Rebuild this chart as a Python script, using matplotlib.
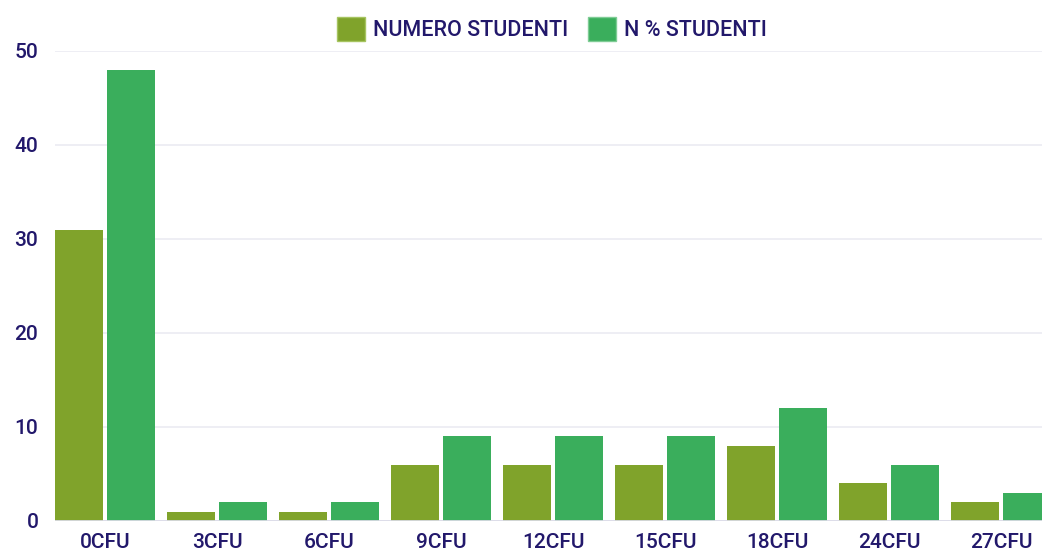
import matplotlib.pyplot as plt
import numpy as np
from matplotlib.patches import Patch

# data
categories = ["0CFU", "3CFU", "6CFU", "9CFU", "12CFU", "15CFU", "18CFU", "24CFU", "27CFU"]
numero_studenti = [31, 1, 1, 6, 6, 6, 8, 4, 2]
perc_studenti = [48, 2, 2, 9, 9, 9, 12, 6, 3]
series_names = ["NUMERO STUDENTI", "N % STUDENTI"]

olive = "#80a32b"
green = "#3aae5c"
ink = "#22186b"

plt.rcParams['font.family'] = ['Roboto', 'DejaVu Sans']
plt.rcParams['font.weight'] = 'medium'

fig = plt.figure(figsize=(10.42, 5.51), dpi=100)
# plot area runs off the right edge, as in the reference
ax = fig.add_axes([55 / 1042, 30 / 551, 987 / 1042, 470 / 551])

x = np.arange(len(categories))
w = 48 / 112
ax.bar(x - 26 / 112, numero_studenti, width=w, color=olive, zorder=3)
ax.bar(x + 26 / 112, perc_studenti, width=w, color=green, zorder=3)

ax.set_xlim(-50 / 112, (1042 - 105) / 112)
ax.set_ylim(0, 50)
ax.set_yticks([0, 10, 20, 30, 40, 50])
ax.set_xticks(x)
ax.set_xticklabels(categories)

for s in ax.spines.values():
    s.set_visible(False)
ax.grid(axis='y', color='#ebebf2', linewidth=1.2, zorder=0)
ax.axhline(0, color='#dcdce8', linewidth=2, zorder=4)
ax.tick_params(axis='both', length=0, labelsize=15, colors=ink)
ax.tick_params(axis='y', pad=12)
ax.tick_params(axis='x', pad=9)

handles = [Patch(facecolor=olive, edgecolor='#a6c460', linewidth=1),
           Patch(facecolor=green, edgecolor='#7fcc95', linewidth=1)]
fig.legend(handles, series_names, loc='upper center', bbox_to_anchor=(552 / 1042, 1.0),
           ncol=2, frameon=False, fontsize=15.5, labelcolor=ink,
           handlelength=1.3, handleheight=1.3, handletextpad=0.35, columnspacing=0.95,
           borderaxespad=0.4)

fig.savefig("out.png", dpi=100)
